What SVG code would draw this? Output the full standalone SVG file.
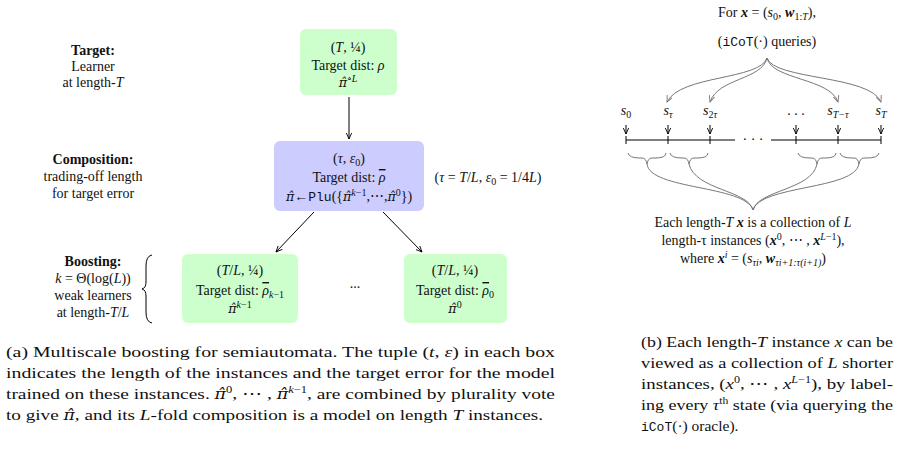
<svg xmlns="http://www.w3.org/2000/svg" width="899" height="453" viewBox="0 0 899 453">
<style>
text{font-family:"Liberation Serif","DejaVu Serif",serif;font-size:14px;fill:#111;text-anchor:middle}
.b{font-weight:bold}
.i{font-style:italic}
.h{font-family:"DejaVu Serif",serif;font-style:italic;font-size:0.9em}
.ol{text-decoration:overline}
.cap{font-size:15.5px;text-anchor:start}
.mono{font-family:"Liberation Mono","DejaVu Sans Mono",monospace;font-size:13px}
.sub{font-size:10px}
.g{fill:#ccffcc}
.p{fill:#ccccff}
.c{fill:none;stroke:#000;stroke-width:1}
.gr{fill:none;stroke:#777;stroke-width:1}
</style>
<defs>
<marker id="ah" viewBox="0 0 10 10" refX="9" refY="5" markerWidth="7" markerHeight="7" orient="auto"><path d="M0,1 L9,5 L0,9" fill="none" stroke="#000" stroke-width="1.3"/></marker>
<marker id="ag" viewBox="0 0 10 10" refX="9" refY="5" markerWidth="7" markerHeight="7" orient="auto"><path d="M0,1 L9,5 L0,9" fill="none" stroke="#777" stroke-width="1.3"/></marker>
</defs>
<g id="labels">
<text x="93" y="55" class="b">Target:</text>
<text x="93" y="71">Learner</text>
<text x="93" y="87">at length-<tspan class="i">T</tspan></text>
<text x="93" y="164" class="b">Composition:</text>
<text x="93" y="181">trading-off length</text>
<text x="93" y="198">for target error</text>
<text x="93" y="266" class="b">Boosting:</text>
<text x="93" y="283"><tspan class="i">k</tspan> = Θ(log(<tspan class="i">L</tspan>))</text>
<text x="93" y="300">weak learners</text>
<text x="93" y="317">at length-<tspan class="i">T</tspan>/<tspan class="i">L</tspan></text>
<path class="c" stroke="#888" d="M152,255 Q146,256 146,266 L146,282 Q146,288 142,289 Q146,290 146,296 L146,312 Q146,322 152,323"/>
<text x="488" y="182" font-size="15">(<tspan class="i">τ</tspan> = <tspan class="i">T</tspan>/<tspan class="i">L</tspan>,  <tspan class="i">ε</tspan><tspan class="sub" dy="3">0</tspan><tspan dy="-3"> = 1/4</tspan><tspan class="i">L</tspan>)</text>
</g>
<g id="target">
<rect class="g" x="300" y="29" width="97" height="66" rx="6"/>
<text x="348" y="52" font-size="15">(<tspan class="i">T</tspan>, ¼)</text>
<text x="348" y="70">Target dist: <tspan class="i">ρ</tspan></text>
<text x="348" y="87"><tspan class="h">π̂</tspan><tspan class="sub" dy="-5">∘<tspan class="i">L</tspan></tspan></text>
</g>
<g id="composition">
<rect class="p" x="274" y="141" width="150" height="70" rx="6"/>
<text x="349" y="163" font-size="15">(<tspan class="i">τ</tspan>, <tspan class="i">ε</tspan><tspan class="sub" dy="3">0</tspan><tspan dy="-3">)</tspan></text>
<text x="349" y="182">Target dist: <tspan class="i ol">ρ</tspan></text>
<text x="349" y="201"><tspan class="h">π̂</tspan>←<tspan class="mono">Plu</tspan>({<tspan class="h">π̂</tspan><tspan class="sub" dy="-5"><tspan class="i">k</tspan>−1</tspan><tspan dy="5">,⋯,</tspan><tspan class="h">π̂</tspan><tspan class="sub" dy="-5">0</tspan><tspan dy="5">})</tspan></text>
</g>
<g id="weak1">
<rect class="g" x="182" y="254" width="116" height="69" rx="6"/>
<text x="240" y="275" font-size="15">(<tspan class="i">T</tspan>/<tspan class="i">L</tspan>, ¼)</text>
<text x="240" y="295">Target dist: <tspan class="i ol">ρ</tspan><tspan class="sub" dy="3"><tspan class="i">k</tspan>−1</tspan></text>
<text x="240" y="313"><tspan class="h">π̂</tspan><tspan class="sub" dy="-5"><tspan class="i">k</tspan>−1</tspan></text>
</g>
<g id="dots"><text x="355" y="288">...</text></g>
<g id="weak0">
<rect class="g" x="404" y="254" width="103" height="69" rx="6"/>
<text x="455" y="275" font-size="15">(<tspan class="i">T</tspan>/<tspan class="i">L</tspan>, ¼)</text>
<text x="455" y="295">Target dist: <tspan class="i ol">ρ</tspan><tspan class="sub" dy="3">0</tspan></text>
<text x="455" y="313"><tspan class="h">π̂</tspan><tspan class="sub" dy="-5">0</tspan></text>
</g>
<g id="connectors">
<line class="c" x1="349" y1="97" x2="349" y2="139" marker-end="url(#ah)"/>
<line class="c" x1="314" y1="212" x2="276" y2="252" marker-end="url(#ah)"/>
<line class="c" x1="383" y1="212" x2="422" y2="252" marker-end="url(#ah)"/>
</g>
<g id="timeline">
<text x="767" y="17">For <tspan class="b i">x</tspan> = (<tspan class="i">s</tspan><tspan class="sub" dy="3">0</tspan><tspan dy="-3">, </tspan><tspan class="b i">w</tspan><tspan class="sub" dy="3">1:<tspan class="i">T</tspan></tspan><tspan dy="-3">),</tspan></text>
<text x="767" y="46">(<tspan class="mono">iCoT</tspan>(·) queries)</text>
<path class="gr" d="M767,58 C760,80 680,75 667,102" marker-end="url(#ag)"/>
<path class="gr" d="M767,58 C762,80 718,78 710,102" marker-end="url(#ag)"/>
<path class="gr" d="M767,58 C772,80 830,78 838,102" marker-end="url(#ag)"/>
<path class="gr" d="M767,58 C774,80 870,75 881,102" marker-end="url(#ag)"/>
<text x="626" y="115" class="i">s<tspan class="sub" dy="3" font-style="normal">0</tspan></text>
<text x="668" y="115" class="i">s<tspan class="sub" dy="3">τ</tspan></text>
<text x="710" y="115" class="i">s<tspan class="sub" dy="3"><tspan font-style="normal">2</tspan>τ</tspan></text>
<text x="796" y="115">. . .</text>
<text x="838" y="115" class="i">s<tspan class="sub" dy="3">T−τ</tspan></text>
<text x="881" y="115" class="i">s<tspan class="sub" dy="3">T</tspan></text>
<g class="c">
<line x1="626" y1="125" x2="626" y2="134" marker-end="url(#ah)"/>
<line x1="668" y1="125" x2="668" y2="134" marker-end="url(#ah)"/>
<line x1="710" y1="125" x2="710" y2="134" marker-end="url(#ah)"/>
<line x1="796" y1="125" x2="796" y2="134" marker-end="url(#ah)"/>
<line x1="838" y1="125" x2="838" y2="134" marker-end="url(#ah)"/>
<line x1="881" y1="125" x2="881" y2="134" marker-end="url(#ah)"/>
<path d="M626,140 H735 M771,140 H881"/>
<path d="M626,136 V144 M668,136 V144 M710,136 V144 M796,136 V144 M838,136 V144 M881,136 V144"/>
</g>
<text x="753" y="144">· · ·</text>
<g class="gr">
<path d="M628,153 Q629,158 640,158 L642,158 Q646,158 647,164 Q648,158 652,158 L655,158 Q666,158 666,153"/>
<path d="M670,153 Q671,158 682,158 L684,158 Q688,158 689,164 Q690,158 694,158 L697,158 Q708,158 708,153"/>
<path d="M798,153 Q799,158 810,158 L812,158 Q816,158 817,164 Q818,158 822,158 L825,158 Q836,158 836,153"/>
<path d="M840,153 Q841,158 852,158 L854,158 Q858,158 859,164 Q860,158 864,158 L867,158 Q878,158 879,153"/>
<path d="M647,164 C650,190 745,185 753,210"/>
<path d="M689,164 C695,190 748,190 753,210"/>
<path d="M817,164 C812,190 758,190 753,210"/>
<path d="M859,164 C855,190 760,185 753,210"/>
</g>
<text x="753" y="227">Each length-<tspan class="i">T</tspan> <tspan class="b i">x</tspan> is a collection of <tspan class="i">L</tspan></text>
<text x="753" y="245">length-τ instances (<tspan class="b i">x</tspan><tspan class="sub" dy="-5">0</tspan><tspan dy="5">, ⋯ , </tspan><tspan class="b i">x</tspan><tspan class="sub" dy="-5"><tspan class="i">L</tspan>−1</tspan><tspan dy="5">),</tspan></text>
<text x="753" y="263">where <tspan class="b i">x</tspan><tspan class="sub i" dy="-5">i</tspan><tspan dy="5"> = (</tspan><tspan class="i">s</tspan><tspan class="sub i" dy="3">τi</tspan><tspan dy="-3">, </tspan><tspan class="b i">w</tspan><tspan class="sub i" dy="3">τi+1:τ(i+1)</tspan><tspan dy="-3">)</tspan></text>
</g>
<g id="captions">
<text class="cap" x="6" y="357" textLength="549" lengthAdjust="spacingAndGlyphs">(a) Multiscale boosting for semiautomata. The tuple (<tspan class="i">t</tspan>, <tspan class="i">ε</tspan>) in each box</text>
<text class="cap" x="6" y="378" textLength="549" lengthAdjust="spacingAndGlyphs">indicates the length of the instances and the target error for the model</text>
<text class="cap" x="6" y="399" textLength="549" lengthAdjust="spacingAndGlyphs">trained on these instances. <tspan class="h">π̂</tspan><tspan class="sub" dy="-6">0</tspan><tspan dy="6">, ⋯ , </tspan><tspan class="h">π̂</tspan><tspan class="sub" dy="-6"><tspan class="i">k</tspan>−1</tspan><tspan dy="6">, are combined by plurality vote</tspan></text>
<text class="cap" x="6" y="420" textLength="537" lengthAdjust="spacingAndGlyphs">to give <tspan class="h">π̂</tspan>, and its <tspan class="i">L</tspan>-fold composition is a model on length <tspan class="i">T</tspan> instances.</text>
<text class="cap" x="641" y="347" textLength="252" lengthAdjust="spacingAndGlyphs">(b) Each length-<tspan class="i">T</tspan> instance <tspan class="i">x</tspan> can be</text>
<text class="cap" x="641" y="368" textLength="252" lengthAdjust="spacingAndGlyphs">viewed as a collection of <tspan class="i">L</tspan> shorter</text>
<text class="cap" x="641" y="389" textLength="252" lengthAdjust="spacingAndGlyphs">instances, (<tspan class="i">x</tspan><tspan class="sub" dy="-6">0</tspan><tspan dy="6">, ⋯ , </tspan><tspan class="i">x</tspan><tspan class="sub" dy="-6"><tspan class="i">L</tspan>−1</tspan><tspan dy="6">), by label-</tspan></text>
<text class="cap" x="641" y="410" textLength="252" lengthAdjust="spacingAndGlyphs">ing every <tspan class="i">τ</tspan><tspan class="sub" dy="-6">th</tspan><tspan dy="6"> state (via querying the</tspan></text>
<text class="cap" x="641" y="431"><tspan class="mono">iCoT</tspan>(·) oracle).</text>
</g>
</svg>
